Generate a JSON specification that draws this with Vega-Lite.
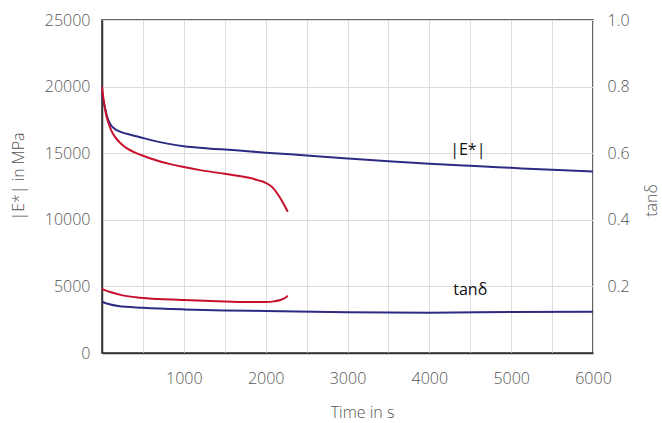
{
  "$schema": "https://vega.github.io/schema/vega-lite/v6.json",
  "autosize": "none",
  "width": 491,
  "height": 333,
  "padding": {"left": 102, "top": 20, "right": 69, "bottom": 70},
  "background": "white",
  "config": {
    "view": {"stroke": "#333333", "strokeWidth": 1.5},
    "font": "Open Sans",
    "axis": {
      "labelFont": "Open Sans",
      "labelFontSize": 16,
      "labelFontWeight": 300,
      "labelColor": "#555555",
      "labelFlush": false,
      "titleFont": "Open Sans",
      "titleFontSize": 16,
      "titleFontWeight": 300,
      "titleColor": "#555555",
      "gridColor": "#dddddd",
      "gridWidth": 1,
      "ticks": false,
      "domainColor": "#333333",
      "domainWidth": 1.5
    }
  },
  "datasets": {
    "modulus": [
      {"t": 0, "v": 19400, "curve": "a"},
      {"t": 30, "v": 18600, "curve": "a"},
      {"t": 60, "v": 17800, "curve": "a"},
      {"t": 100, "v": 17200, "curve": "a"},
      {"t": 150, "v": 16850, "curve": "a"},
      {"t": 220, "v": 16620, "curve": "a"},
      {"t": 350, "v": 16380, "curve": "a"},
      {"t": 465, "v": 16200, "curve": "a"},
      {"t": 600, "v": 15980, "curve": "a"},
      {"t": 800, "v": 15720, "curve": "a"},
      {"t": 1000, "v": 15520, "curve": "a"},
      {"t": 1300, "v": 15360, "curve": "a"},
      {"t": 1600, "v": 15240, "curve": "a"},
      {"t": 2000, "v": 15040, "curve": "a"},
      {"t": 2500, "v": 14830, "curve": "a"},
      {"t": 3000, "v": 14610, "curve": "a"},
      {"t": 3500, "v": 14400, "curve": "a"},
      {"t": 4000, "v": 14210, "curve": "a"},
      {"t": 4500, "v": 14050, "curve": "a"},
      {"t": 5000, "v": 13900, "curve": "a"},
      {"t": 5500, "v": 13750, "curve": "a"},
      {"t": 6000, "v": 13620, "curve": "a"},
      {"t": 0, "v": 20000, "curve": "b"},
      {"t": 20, "v": 19000, "curve": "b"},
      {"t": 50, "v": 17900, "curve": "b"},
      {"t": 80, "v": 17250, "curve": "b"},
      {"t": 110, "v": 16750, "curve": "b"},
      {"t": 150, "v": 16300, "curve": "b"},
      {"t": 220, "v": 15780, "curve": "b"},
      {"t": 300, "v": 15380, "curve": "b"},
      {"t": 400, "v": 15060, "curve": "b"},
      {"t": 550, "v": 14700, "curve": "b"},
      {"t": 700, "v": 14400, "curve": "b"},
      {"t": 850, "v": 14160, "curve": "b"},
      {"t": 1000, "v": 13960, "curve": "b"},
      {"t": 1200, "v": 13730, "curve": "b"},
      {"t": 1500, "v": 13450, "curve": "b"},
      {"t": 1800, "v": 13150, "curve": "b"},
      {"t": 1900, "v": 12980, "curve": "b"},
      {"t": 2000, "v": 12780, "curve": "b"},
      {"t": 2080, "v": 12450, "curve": "b"},
      {"t": 2150, "v": 11900, "curve": "b"},
      {"t": 2210, "v": 11300, "curve": "b"},
      {"t": 2270, "v": 10600, "curve": "b"}
    ],
    "tan": [
      {"t": 0, "v": 0.154, "curve": "a"},
      {"t": 80, "v": 0.147, "curve": "a"},
      {"t": 200, "v": 0.141, "curve": "a"},
      {"t": 500, "v": 0.136, "curve": "a"},
      {"t": 1000, "v": 0.131, "curve": "a"},
      {"t": 1500, "v": 0.128, "curve": "a"},
      {"t": 2000, "v": 0.126, "curve": "a"},
      {"t": 3000, "v": 0.122, "curve": "a"},
      {"t": 4000, "v": 0.121, "curve": "a"},
      {"t": 5000, "v": 0.123, "curve": "a"},
      {"t": 6000, "v": 0.124, "curve": "a"},
      {"t": 0, "v": 0.192, "curve": "b"},
      {"t": 100, "v": 0.183, "curve": "b"},
      {"t": 250, "v": 0.173, "curve": "b"},
      {"t": 465, "v": 0.166, "curve": "b"},
      {"t": 700, "v": 0.162, "curve": "b"},
      {"t": 1000, "v": 0.159, "curve": "b"},
      {"t": 1500, "v": 0.155, "curve": "b"},
      {"t": 1800, "v": 0.153, "curve": "b"},
      {"t": 2000, "v": 0.153, "curve": "b"},
      {"t": 2100, "v": 0.155, "curve": "b"},
      {"t": 2180, "v": 0.159, "curve": "b"},
      {"t": 2240, "v": 0.166, "curve": "b"},
      {"t": 2270, "v": 0.172, "curve": "b"}
    ]
  },
  "layer": [
    {
      "layer": [
        {
          "data": {"name": "modulus"},
          "mark": {"type": "line", "strokeWidth": 2, "interpolate": "monotone"},
          "encoding": {
            "x": {
              "field": "t", "type": "quantitative",
              "scale": {"domain": [0, 6000], "nice": false},
              "axis": {
                "title": "Time in s",
                "values": [0, 500, 1000, 1500, 2000, 2500, 3000, 3500, 4000, 4500, 5000, 5500, 6000],
                "format": "d",
                "labelExpr": "datum.value % 1000 == 0 && datum.value > 0 ? datum.label : ''",
                "labelPadding": 17,
                "titleX": 260,
                "titleY": 59,
                "titleBaseline": "middle",
                "grid": true
              }
            },
            "y": {
              "field": "v", "type": "quantitative",
              "scale": {"domain": [0, 25000], "nice": false},
              "axis": {
                "title": "|E*| in MPa",
                "values": [0, 5000, 10000, 15000, 20000, 25000],
                "format": "d",
                "labelPadding": 12,
                "titleX": -84,
                "titleY": 156,
                "titleBaseline": "middle",
                "titleAngle": -90,
                "grid": true
              }
            },
            "color": {
              "field": "curve", "type": "nominal",
              "scale": {"domain": ["a", "b"], "range": ["#2d2a82", "#c8102e"]},
              "legend": null
            }
          }
        },
        {
          "data": {"values": [{"t": 4470, "v": 15240, "label": "|E*|"}]},
          "mark": {"type": "text", "font": "Open Sans", "fontSize": 16, "color": "#111111"},
          "encoding": {
            "x": {"field": "t", "type": "quantitative"},
            "y": {"field": "v", "type": "quantitative"},
            "text": {"field": "label"}
          }
        }
      ]
    },
    {
      "layer": [
        {
          "data": {"name": "tan"},
          "mark": {"type": "line", "strokeWidth": 2, "interpolate": "monotone"},
          "encoding": {
            "x": {"field": "t", "type": "quantitative"},
            "y": {
              "field": "v", "type": "quantitative",
              "scale": {"domain": [0, 1], "nice": false},
              "axis": {
                "orient": "right",
                "title": "tanδ",
                "values": [0.2, 0.4, 0.6, 0.8, 1.0],
                "format": ".1f",
                "labelPadding": 14,
                "titleX": 58,
                "titleY": 180,
                "titleBaseline": "middle",
                "titleAngle": -90,
                "grid": false,
                "domain": false
              }
            },
            "color": {
              "field": "curve", "type": "nominal",
              "scale": {"domain": ["a", "b"], "range": ["#2d2a82", "#c8102e"]},
              "legend": null
            }
          }
        },
        {
          "data": {"values": [{"t": 4500, "v": 0.19, "label": "tanδ"}]},
          "mark": {"type": "text", "font": "Open Sans", "fontSize": 16, "color": "#111111"},
          "encoding": {
            "x": {"field": "t", "type": "quantitative"},
            "y": {"field": "v", "type": "quantitative"},
            "text": {"field": "label"}
          }
        }
      ]
    }
  ],
  "resolve": {"scale": {"y": "independent"}}
}
